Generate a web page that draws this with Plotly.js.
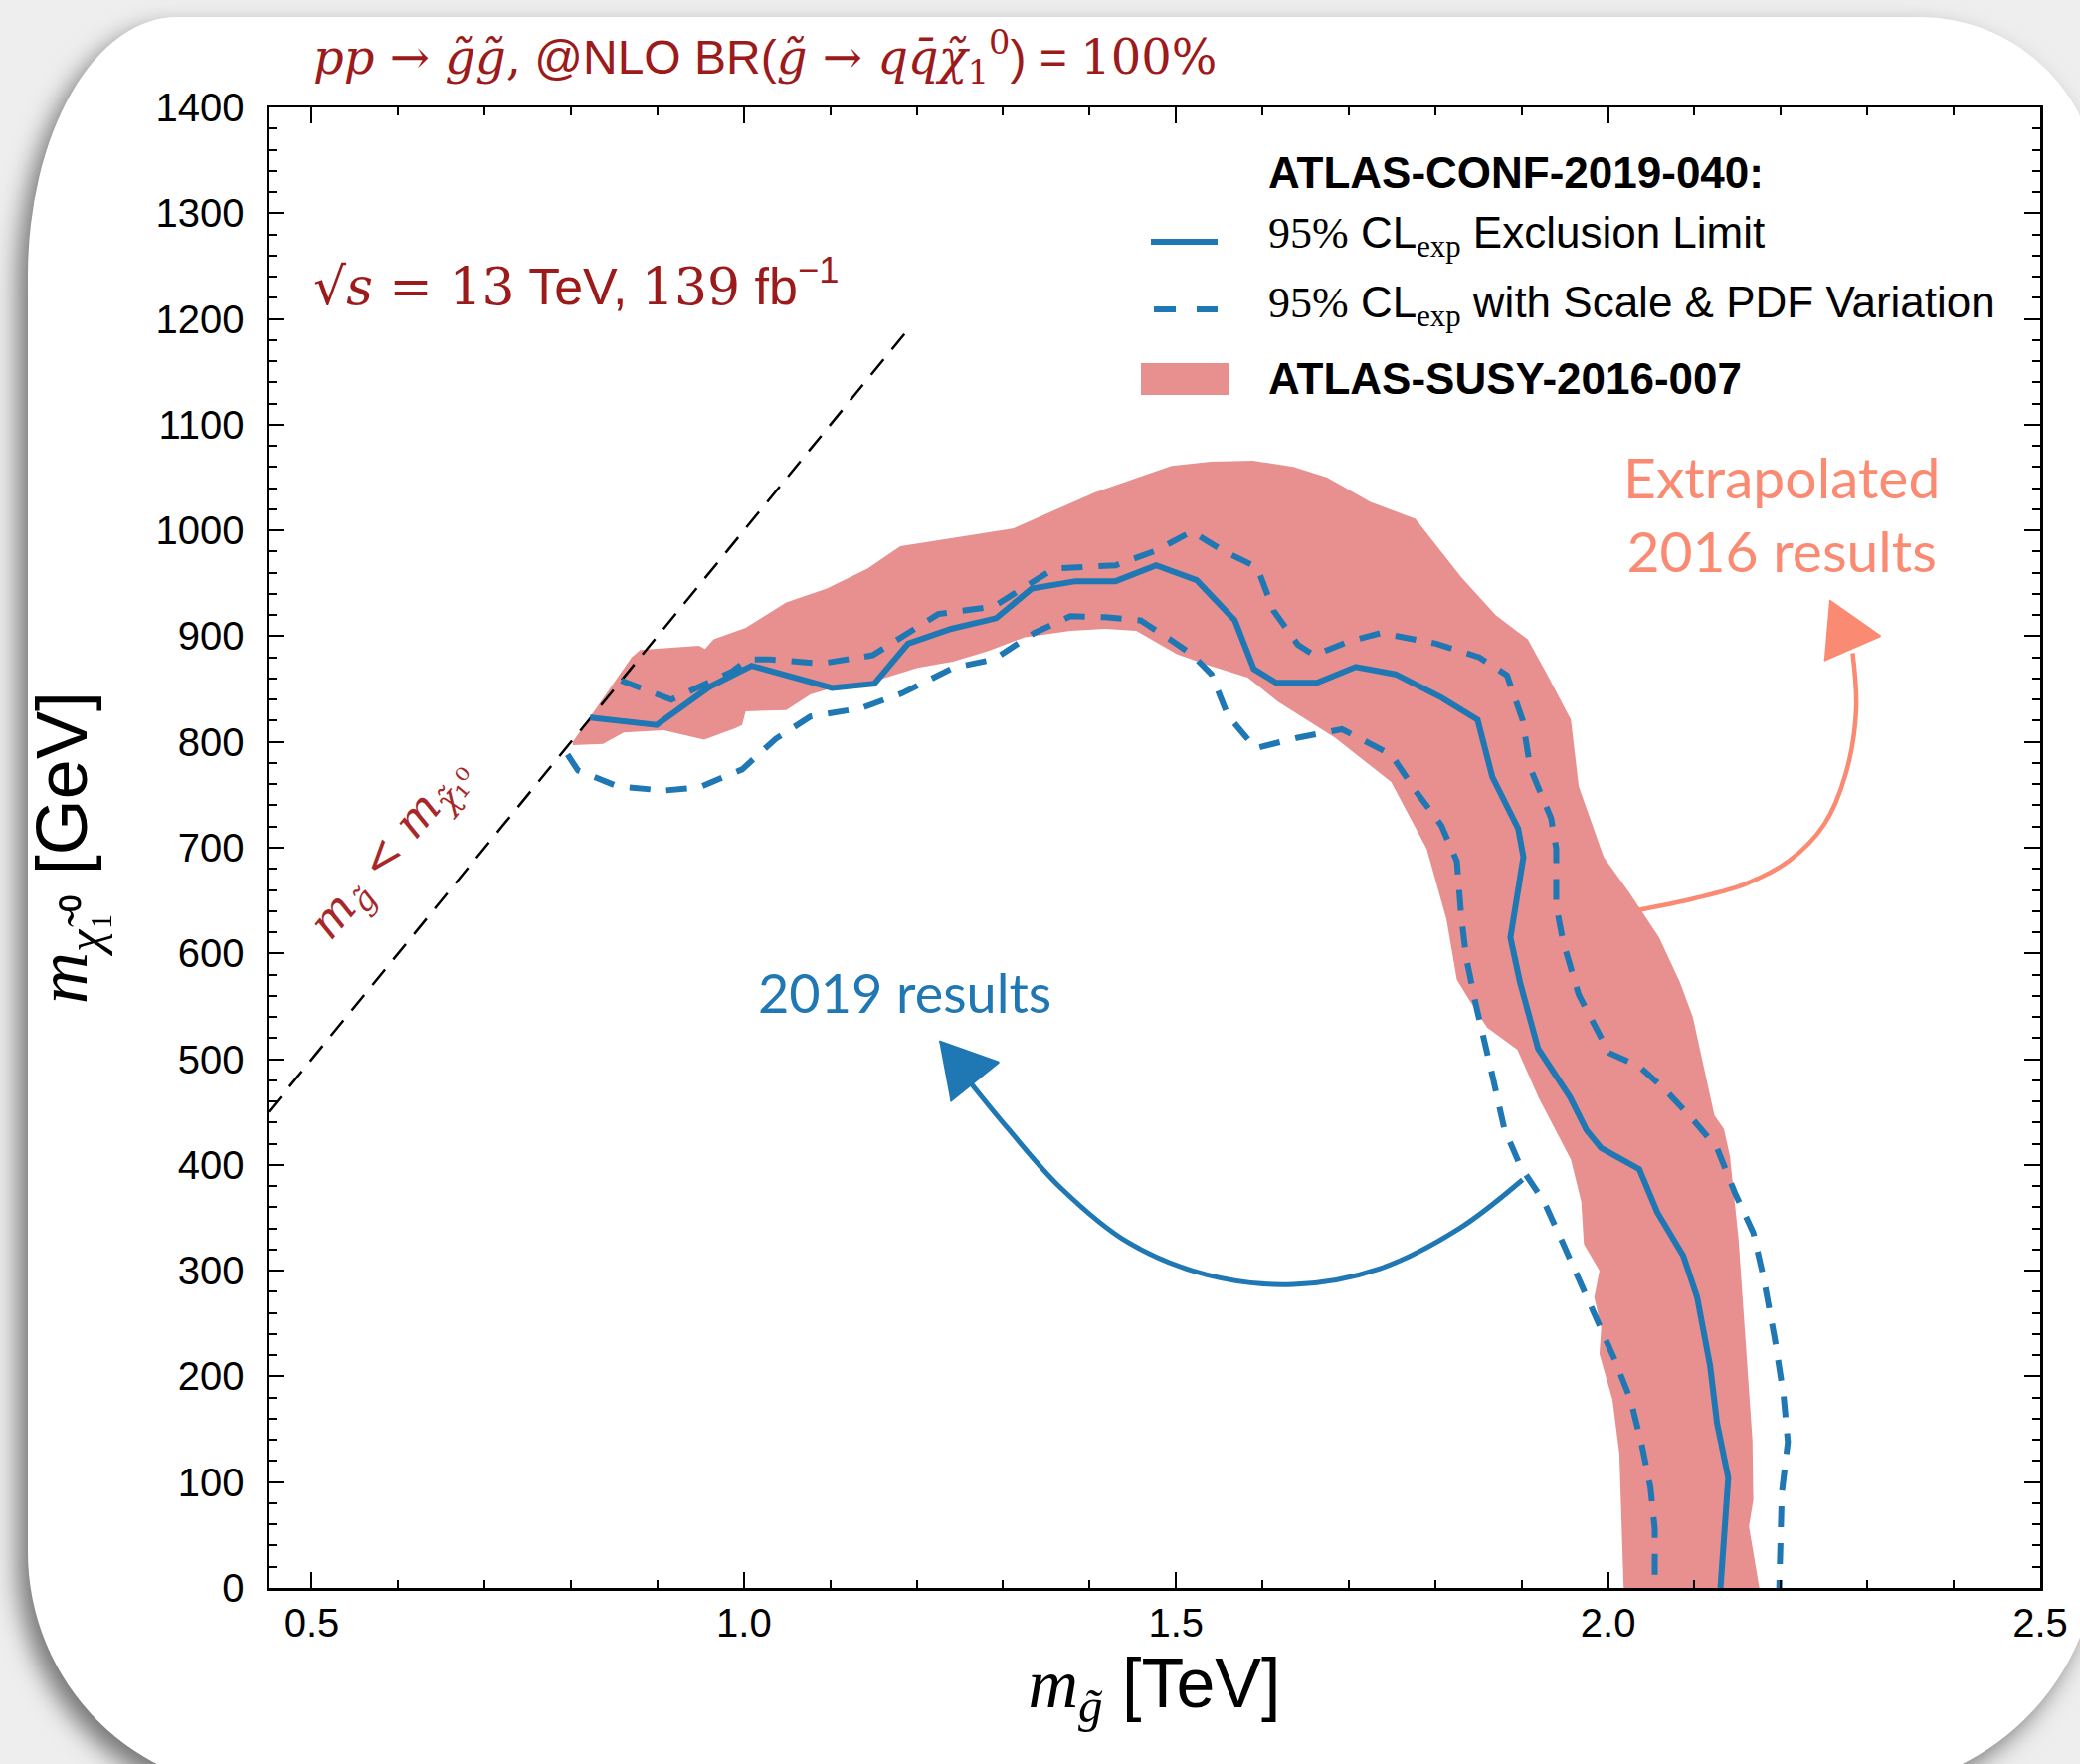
<!DOCTYPE html>
<html><head><meta charset="utf-8">
<script src="https://cdn.plot.ly/plotly-3.0.1.min.js"></script>
<style>
html,body{margin:0;padding:0;width:2091px;height:1773px;overflow:hidden;background:#eeeeee;}
#card{position:absolute;left:28px;top:17px;width:2082px;height:1783px;background:#fff;
 border-radius:150px 180px 250px 240px / 260px 180px 250px 240px;
 box-shadow:-10px 12px 24px rgba(0,0,0,0.5);}
#chart{position:absolute;left:0;top:0;width:2091px;height:1773px;}
</style></head><body>
<div id="card"></div><div id="chart"></div>
<script>
// ---- data (gluino mass in TeV, neutralino mass in GeV) ----
const solidX = [0.822, 0.899, 0.960, 1.009, 1.102, 1.151, 1.190, 1.240, 1.292, 1.333, 1.384, 1.430, 1.477, 1.524, 1.568, 1.590, 1.616, 1.663, 1.708, 1.754, 1.807, 1.849, 1.866, 1.896, 1.902, 1.887, 1.898, 1.919, 1.956, 1.975, 1.992, 2.036, 2.057, 2.087, 2.103, 2.118, 2.126, 2.139, 2.130];
const solidY = [823, 816, 852, 872, 851, 855, 893, 907, 917, 945, 952, 952, 967, 953, 915, 869, 856, 856, 871, 864, 842, 821, 767, 718, 691, 615, 573, 510, 464, 433, 416, 396, 355, 314, 275, 210, 156, 104, 0];

const dashUpX = [0.858, 0.916, 0.985, 1.005, 1.030, 1.089, 1.149, 1.183, 1.225, 1.289, 1.330, 1.359, 1.430, 1.477, 1.518, 1.554, 1.594, 1.613, 1.641, 1.660, 1.700, 1.737, 1.801, 1.851, 1.883, 1.901, 1.910, 1.934, 1.940, 1.940, 1.948, 1.966, 2.001, 2.036, 2.065, 2.098, 2.126, 2.147, 2.168, 2.180, 2.193, 2.203, 2.208, 2.201, 2.198];
const dashUpY = [858, 840, 866, 878, 878, 874, 882, 899, 921, 928, 950, 964, 967, 981, 999, 981, 965, 924, 892, 882, 895, 903, 893, 880, 863, 821, 775, 728, 699, 645, 611, 561, 506, 493, 472, 443, 416, 373, 336, 293, 235, 182, 138, 90, 0];

const dashLowX = [0.796, 0.808, 0.854, 0.907, 0.948, 0.998, 1.037, 1.077, 1.136, 1.183, 1.242, 1.289, 1.336, 1.378, 1.418, 1.459, 1.495, 1.518, 1.541, 1.560, 1.592, 1.641, 1.692, 1.749, 1.777, 1.807, 1.825, 1.830, 1.836, 1.848, 1.866, 1.880, 1.899, 1.926, 1.946, 1.966, 1.987, 2.007, 2.026, 2.039, 2.049, 2.054, 2.054];
const dashLowY = [788, 773, 758, 754, 757, 774, 803, 824, 832, 846, 870, 878, 903, 919, 918, 915, 896, 883, 864, 825, 794, 804, 812, 788, 754, 721, 687, 636, 595, 548, 485, 434, 398, 365, 329, 293, 253, 217, 178, 135, 95, 56, 0];

const bandX = [0.802, 0.870, 0.880, 0.948, 0.955, 0.965, 1.002, 1.049, 1.096, 1.143, 1.181, 1.242, 1.312, 1.406, 1.495, 1.540, 1.589, 1.636, 1.675, 1.725, 1.777, 1.830, 1.870, 1.907, 1.930, 1.957, 1.966, 1.995, 2.025, 2.059, 2.083, 2.098, 2.112, 2.123, 2.134, 2.141, 2.151, 2.162, 2.167, 2.168, 2.163, 2.175,
               2.018, 2.013, 2.005, 1.990, 1.992, 1.984, 1.990, 1.972, 1.969, 1.957, 1.920, 1.895, 1.860, 1.840, 1.825, 1.813, 1.790, 1.749, 1.684, 1.618, 1.583, 1.536, 1.501, 1.454, 1.418, 1.378, 1.325, 1.283, 1.242, 1.201, 1.149, 1.102, 1.077, 1.049, 1.002, 0.998, 0.990, 0.954, 0.907, 0.861, 0.837, 0.802];
const bandY = [800, 880, 887, 891, 888, 897, 908, 932, 945, 964, 985, 993, 1002, 1036, 1061, 1065, 1066, 1060, 1050, 1027, 1011, 956, 920, 897, 863, 821, 758, 691, 657, 615, 573, 540, 489, 447, 434, 408, 329, 199, 140, 83, 58, 0,
               0, 127, 178, 221, 246, 275, 300, 325, 365, 405, 463, 509, 530, 555, 575, 632, 699, 762, 804, 838, 861, 873, 883, 905, 907, 905, 899, 886, 876, 870, 857, 851, 845, 830, 829, 816, 813, 802, 811, 809, 798, 797];

const diagX = [0.45, 1.19];
const diagY = [450, 1190];

const xTickVals = [0.5, 1.0, 1.5, 2.0, 2.5];
const xTickText = ['0.5', '1.0', '1.5', '2.0', '2.5'];
const yTickVals = [0, 100, 200, 300, 400, 500, 600, 700, 800, 900, 1000, 1100, 1200, 1300, 1400];
const yTickText = ['0', '100', '200', '300', '400', '500', '600', '700', '800', '900', '1000', '1100', '1200', '1300', '1400'];

// hand-drawn annotation arrows
const blueArrowX = [1.901, 1.828, 1.736, 1.636, 1.536, 1.444, 1.367, 1.306, 1.258];
const blueArrowY = [386, 340, 302, 287, 296, 327, 378, 434, 482];
const blueHeadX = [1.226, 1.295, 1.239];
const blueHeadY = [517, 497, 460];
const salmonArrowX = [2.035, 2.100, 2.160, 2.210, 2.250, 2.275, 2.287, 2.283];
const salmonArrowY = [641, 652, 666, 688, 722, 770, 830, 884];
const salmonHeadX = [2.256, 2.315, 2.250];
const salmonHeadY = [934, 900, 877];

// ---- style ----
const BLUE = '#1f77b4', BAND = '#e8908f', DRED = '#9c1a1a', SALMON = '#fa8a72';
const SANS = 'Liberation Sans, Arial, sans-serif';
const SERIF = 'DejaVu Serif';
const L = 270, R = 2051, T = 108, B = 1596;
const px = v => (v - L) / (R - L);
const py = v => 1 - (v - T) / (B - T);
const ser = s => '<span style="font-family:' + SERIF + '">' + s + '</span>';
const serL = s => '<span style="font-family:Liberation Serif">' + s + '</span>';

const traces = [
  {x: bandX, y: bandY, type: 'scatter', mode: 'lines', fill: 'toself', fillcolor: BAND,
   line: {width: 0, color: BAND}, hoverinfo: 'skip', showlegend: false},
  {x: diagX, y: diagY, type: 'scatter', mode: 'lines',
   line: {color: 'black', width: 2.5, dash: '20px,13px'}, hoverinfo: 'skip', showlegend: false},
  {x: dashUpX, y: dashUpY, type: 'scatter', mode: 'lines',
   line: {color: BLUE, width: 6, dash: '21px,16px'}, hoverinfo: 'skip', showlegend: false},
  {x: dashLowX, y: dashLowY, type: 'scatter', mode: 'lines',
   line: {color: BLUE, width: 6, dash: '21px,16px'}, hoverinfo: 'skip', showlegend: false},
  {x: solidX, y: solidY, type: 'scatter', mode: 'lines',
   line: {color: BLUE, width: 6}, hoverinfo: 'skip', showlegend: false},
  {x: blueArrowX, y: blueArrowY, type: 'scatter', mode: 'lines',
   line: {color: BLUE, width: 5, shape: 'spline'}, hoverinfo: 'skip', showlegend: false},
  {x: blueHeadX, y: blueHeadY, type: 'scatter', mode: 'lines', fill: 'toself', fillcolor: BLUE,
   line: {color: BLUE, width: 2}, hoverinfo: 'skip', showlegend: false},
  {x: salmonArrowX, y: salmonArrowY, type: 'scatter', mode: 'lines',
   line: {color: SALMON, width: 4.5, shape: 'spline'}, hoverinfo: 'skip', showlegend: false},
  {x: salmonHeadX, y: salmonHeadY, type: 'scatter', mode: 'lines', fill: 'toself', fillcolor: SALMON,
   line: {color: SALMON, width: 2}, hoverinfo: 'skip', showlegend: false}
];

const axisCommon = {
  showline: true, linecolor: 'black', linewidth: 2.5, mirror: 'ticks',
  ticks: 'inside', ticklen: 16, tickwidth: 2, tickcolor: 'black',
  showgrid: false, zeroline: false, fixedrange: true,
  tickfont: {family: SANS, size: 40, color: 'black'}
};

const layout = {
  width: 2091, height: 1773,
  margin: {l: L, r: 2091 - R, t: T, b: 1773 - B, pad: 0},
  paper_bgcolor: 'rgba(0,0,0,0)', plot_bgcolor: 'white',
  showlegend: false,
  xaxis: Object.assign({}, axisCommon, {
    range: [0.45, 2.5], tickvals: xTickVals, ticktext: xTickText, ticklabelstandoff: -2,
    minor: {dtick: 0.1, tick0: 0.5, ticks: 'inside', ticklen: 8, tickwidth: 2, tickcolor: 'black', showgrid: false},
    title: {text: serL('<i>m</i><sub><i>g̃</i></sub>') + ' [TeV]', font: {family: SANS, size: 70, color: 'black'}, standoff: 16}
  }),
  yaxis: Object.assign({}, axisCommon, {
    range: [0, 1400], tickvals: yTickVals, ticktext: yTickText, ticklabelstandoff: 14,
    minor: {dtick: 20, tick0: 0, ticks: 'inside', ticklen: 8, tickwidth: 2, tickcolor: 'black', showgrid: false},
    title: {text: serL('<i>m</i><sub><i>χ̃</i>₁⁰</sub>') + ' [GeV]', font: {family: SANS, size: 72, color: 'black'}, standoff: 46}
  }),
  shapes: [
    {type: 'line', xref: 'paper', yref: 'paper', x0: px(1157), x1: px(1224), y0: py(243), y1: py(243),
     line: {color: BLUE, width: 6}},
    {type: 'line', xref: 'paper', yref: 'paper', x0: px(1160), x1: px(1224), y0: py(311), y1: py(311),
     line: {color: BLUE, width: 6, dash: '22px,21px'}},
    {type: 'rect', xref: 'paper', yref: 'paper', x0: px(1147), x1: px(1235), y0: py(397), y1: py(365),
     fillcolor: BAND, line: {width: 0}}
  ],
  annotations: [
    {xref: 'paper', yref: 'paper', x: px(313), y: py(58), xanchor: 'left', yanchor: 'middle', showarrow: false,
     text: ser('<i>pp</i> → <i>g̃g̃</i>,') + ' @NLO BR(' + ser('<i>g̃</i> → <i>qq̄χ̃</i><sub>1</sub><sup>0</sup>') + ') = ' + ser('100%'),
     font: {family: SANS, size: 48, color: DRED}},
    {xref: 'paper', yref: 'paper', x: px(313), y: py(285), xanchor: 'left', yanchor: 'middle', showarrow: false,
     text: ser('√<i>s</i> = 13') + ' TeV, ' + ser('139') + ' fb<sup>−1</sup>',
     font: {family: SANS, size: 52, color: DRED}},
    {xref: 'x', yref: 'y', x: 0.592, y: 698, textangle: -50, showarrow: false,
     text: ser('<i>m</i><sub><i>g̃</i></sub> &lt; <i>m</i><sub><i>χ̃</i>₁⁰</sub>'),
     font: {family: SERIF, size: 46, color: '#a8282a'}},
    {xref: 'paper', yref: 'paper', x: px(1273), y: py(173), xanchor: 'left', yanchor: 'middle', showarrow: false,
     text: '<b>ATLAS-CONF-2019-040:</b>', font: {family: SANS, size: 44, color: 'black'}},
    {xref: 'paper', yref: 'paper', x: px(1273), y: py(237), xanchor: 'left', yanchor: 'middle', showarrow: false,
     text: serL('95%') + ' CL<sub>' + serL('exp') + '</sub> Exclusion Limit', font: {family: SANS, size: 44, color: 'black'}},
    {xref: 'paper', yref: 'paper', x: px(1273), y: py(307), xanchor: 'left', yanchor: 'middle', showarrow: false,
     text: serL('95%') + ' CL<sub>' + serL('exp') + '</sub> with Scale &amp; PDF Variation', font: {family: SANS, size: 44, color: 'black'}},
    {xref: 'paper', yref: 'paper', x: px(1273), y: py(380), xanchor: 'left', yanchor: 'middle', showarrow: false,
     text: '<b>ATLAS-SUSY-2016-007</b>', font: {family: SANS, size: 44, color: 'black'}},
    {xref: 'x', yref: 'y', x: 1.186, y: 563, showarrow: false, text: '2019 results',
     font: {family: 'Lato, Open Sans, sans-serif', size: 54, color: BLUE}},
    {xref: 'x', yref: 'y', x: 2.201, y: 1016, showarrow: false, text: 'Extrapolated<br>2016 results',
     font: {family: 'Lato, Open Sans, sans-serif', size: 57, color: SALMON}}
  ]
};

Plotly.newPlot('chart', traces, layout, {staticPlot: true, displayModeBar: false});
</script></body></html>
